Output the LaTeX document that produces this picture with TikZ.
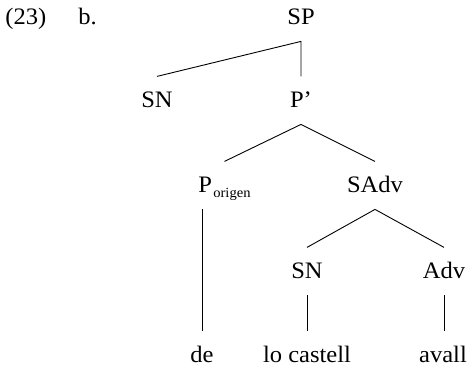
\documentclass[tikz,border=0pt]{standalone}
\usepackage{fontspec}
\setmainfont{Liberation Serif}[FakeStretch=1.04]
\begin{document}
\begin{tikzpicture}[x=0.5pt,y=-0.5pt,
  lbl/.style={anchor=base, font=\fontsize{11.8}{14}\selectfont, text height=7.6pt, text depth=0pt, inner ysep=8pt, inner xsep=0pt},
  edge/.style={line width=0.45pt}]
\useasboundingbox (0,0) rectangle (470,367);
\node[lbl, anchor=base west] (num) at (5,25) {(23)};
\node[lbl, anchor=base west] (sub) at (78,25) {b.};
\node[lbl] (sp) at (301,25) {SP};
\node[lbl] (sn1) at (157,108) {SN};
\node[lbl] (pbar) at (301,108) {P’};
\node[lbl] (porig) at (224.5,193) {P\kern0.6pt\raisebox{-2.5pt}{\fontsize{7}{8}\selectfont origen}};
\node[lbl] (sadv) at (375,193) {SAdv};
\node[lbl] (sn2) at (307,279) {SN};
\node[lbl] (adv) at (444,279) {Adv};
\node[lbl] (de) at (202,363) {de};
\node[lbl] (lc) at (307,363) {lo castell};
\node[lbl] (avall) at (443,363) {avall};
\draw[edge] (sn1.north) -- (sp.south) -- (pbar.north);
\draw[edge] (porig.north) -- (pbar.south) -- (sadv.north);
\draw[edge] (porig.south -| de.north) -- (de.north);
\draw[edge] (sn2.north) -- (sadv.south) -- (adv.north);
\draw[edge] (sn2.south) -- (lc.north);
\draw[edge] (adv.south) -- (adv.south |- avall.north);
\end{tikzpicture}
\end{document}
